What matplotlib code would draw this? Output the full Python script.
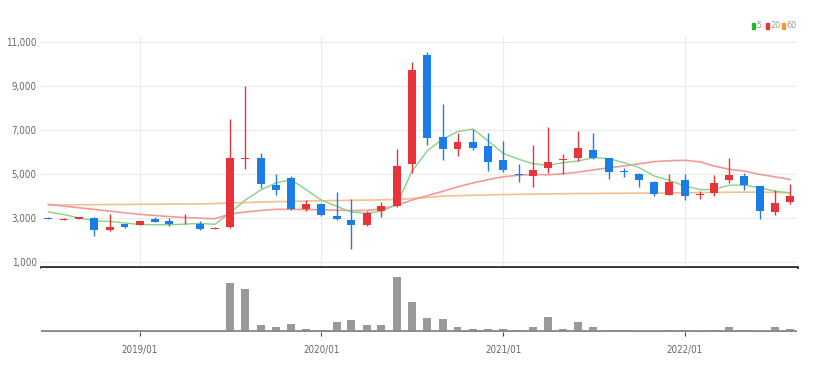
import numpy as np
import pandas as pd
import matplotlib
matplotlib.use("Agg")
import matplotlib.pyplot as plt
import matplotlib.dates as mdates
from matplotlib.patches import Rectangle

plt.rcParams['font.family'] = ['DejaVu Sans']
plt.rcParams['font.stretch'] = 'condensed'

# monthly candles 2018/07 .. 2022/08
months = pd.date_range('2018-07-01', periods=50, freq='MS')

opens = [3000, 2900, 2960, 3000, 2430, 2700,
         2690, 2930, 2840, 2740, 2720, 2480, 2580, 5650, 5700, 4470, 4820, 3400,
         3610, 3060, 2880, 2680, 3290, 3550, 5460, 10390, 6690, 6120, 6420, 6240,
         5610, 4960, 4890, 5280, 5640, 5730, 6080, 5700, 5110, 5000, 4620, 4030,
         4710, 4040, 4100, 4710, 4890, 4440, 3260, 3720]
highs = [3030, 3000, 3050, 3020, 3150, 2720,
         2870, 3050, 2990, 3150, 2830, 2560, 7480, 8980, 5920, 5000, 4890, 3820,
         3670, 4160, 3860, 3290, 3700, 6120, 10080, 10540, 8180, 6850, 7030, 6850,
         6500, 5430, 6300, 7140, 5890, 6950, 6850, 5720, 5280, 5050, 4660, 4970,
         4970, 4210, 4920, 5730, 5050, 4450, 4280, 4540]
lows = [2920, 2880, 2940, 2150, 2400, 2530,
        2650, 2800, 2600, 2720, 2450, 2470, 2550, 5200, 4360, 4020, 3370, 3320,
        3060, 2880, 1570, 2600, 3020, 3490, 5050, 6310, 5610, 5810, 6070, 5120,
        5090, 4630, 4410, 5020, 4970, 5580, 5660, 4740, 4860, 4410, 3980, 4020,
        3790, 3870, 3980, 4590, 4280, 2950, 3110, 3600]
closes = [2950, 2960, 3020, 2450, 2580, 2570,
          2840, 2820, 2700, 2780, 2500, 2530, 5730, 5720, 4510, 4280, 3410, 3610,
          3110, 2960, 2670, 3200, 3550, 5350, 9730, 6620, 6120, 6420, 6150, 5550,
          5170, 4930, 5170, 5550, 5680, 6150, 5730, 5090, 5080, 4700, 4060, 4620,
          3980, 4070, 4590, 4940, 4480, 3290, 3670, 3980]

ma5 = [3260, 3140, 2990, 2860, 2830, 2760,
       2690, 2680, 2680, 2710, 2740, 2700, 3220, 3800, 4260, 4570, 4730, 4280,
       3800, 3520, 3260, 3200, 3300, 3600, 5100, 6040, 6570, 6910, 7030, 6500,
       5920, 5660, 5460, 5380, 5500, 5580, 5730, 5690, 5500, 5280, 4890, 4700,
       4440, 4280, 4280, 4480, 4480, 4360, 4210, 4130]
ma20 = [3600, 3530, 3450, 3380, 3300, 3220,
        3150, 3100, 3050, 3010, 2980, 2950, 3170, 3260, 3330, 3380, 3380, 3370,
        3360, 3340, 3320, 3330, 3400, 3560, 3800, 4000, 4200, 4400, 4580, 4730,
        4860, 4930, 4970, 4950, 5000, 5070, 5170, 5270, 5350, 5450, 5550, 5590,
        5610, 5540, 5350, 5200, 5120, 4970, 4860, 4740]
ma60 = [3580, 3580, 3590, 3590, 3600, 3600,
        3610, 3610, 3620, 3620, 3630, 3640, 3670, 3690, 3710, 3730, 3740, 3760,
        3770, 3780, 3790, 3800, 3810, 3830, 3870, 3920, 3980, 4000, 4020, 4030,
        4050, 4060, 4070, 4080, 4090, 4100, 4100, 4110, 4110, 4120, 4120, 4130,
        4130, 4140, 4150, 4160, 4160, 4160, 4150, 4130]

volume = [0, 0, 0, 0, 0.1, 0,
          0, 0, 0, 0, 0, 0, 49, 42.4, 5.7, 4, 6.7, 1.7,
          0.7, 8.7, 10.7, 5.7, 5.7, 55, 29.7, 13.7, 12, 4, 2.4, 2.4,
          2.4, 0.7, 3.7, 14.4, 2, 9.4, 3.7, 0.7, 0.7, 0, 0, 0.7,
          0.7, 0, 0.7, 3.7, 0.7, 0, 4, 2]
volume = [v * 100000 for v in volume]

year_ticks = pd.to_datetime(['2019-01-01', '2020-01-01', '2021-01-01', '2022-01-01'])
tick_labels = ['2019/01', '2020/01', '2021/01', '2022/01']
price_ticks = [1000, 3000, 5000, 7000, 9000, 11000]
legend_labels = ['5', '20', '60']
legend_colors = ['#22bb22', '#e8333a', '#f39c2b']

RED = '#e8333a'
BLUE = '#1a7de8'

fig = plt.figure(figsize=(8.14, 3.72), dpi=100)
ax = fig.add_axes([41/814, 1 - 267/372, 756/814, 231/372])
axv = fig.add_axes([41/814, 1 - 332/372, 756/814, 64/372], sharex=ax)

x = mdates.date2num(months)
o = np.array(opens); h = np.array(highs); l = np.array(lows); c = np.array(closes)
colors = np.where(c >= o, RED, BLUE)

ax.vlines(x, l, h, color=colors, lw=1, zorder=3)
body = np.maximum(np.abs(c - o), 40)
ax.bar(x, body, bottom=np.minimum(o, c), width=16, color=colors, zorder=4)

ax.plot(x, ma60, color='#f6c08e', lw=1.2, zorder=2)
ax.plot(x, ma20, color='#f29a9a', lw=1.2, zorder=2)
ax.plot(x, ma5, color='#86d486', lw=1.0, zorder=2)

ax.set_ylim(759, 11259)
ax.set_xlim(x[0] - 15, x[-1] + 14)
ax.set_yticks(price_ticks)
ax.set_yticklabels([f'{p:,}' for p in price_ticks])
ax.set_xticks(year_ticks)
ax.tick_params(axis='x', labelbottom=False, length=0)
ax.tick_params(axis='y', length=0, labelsize=7, labelcolor='#666666', pad=3)
ax.grid(True, color='#ebebeb', lw=0.8)
ax.set_axisbelow(True)
for s in ax.spines.values():
    s.set_visible(False)
ax.spines['bottom'].set_visible(True)
ax.spines['bottom'].set_color('#333333')
ax.spines['bottom'].set_linewidth(2)

axv.bar(x, volume, width=16, color='#999999', zorder=3)
axv.axhline(0, color='#8a8a8a', lw=2, zorder=4)
axv.set_ylim(-max(volume) / 55, max(volume) * 64 / 55)
axv.set_yticks([])
axv.set_xticks(year_ticks)
axv.set_xticklabels(tick_labels)
axv.tick_params(axis='x', length=3, color='#444444', labelsize=7, labelcolor='#666666', pad=6)
for s in axv.spines.values():
    s.set_visible(False)

# legend top right
lx = [752, 766, 782]
for px, lab, col in zip(lx, legend_labels, legend_colors):
    fig.add_artist(Rectangle((px/814, 1 - 29/372), 3/814, 6/372,
                             transform=fig.transFigure, color=col))
    fig.text((px + 4)/814, 1 - 26/372, lab, color='#999999', fontsize=6.5, va='center')

fig.savefig('out.png', dpi=100)
